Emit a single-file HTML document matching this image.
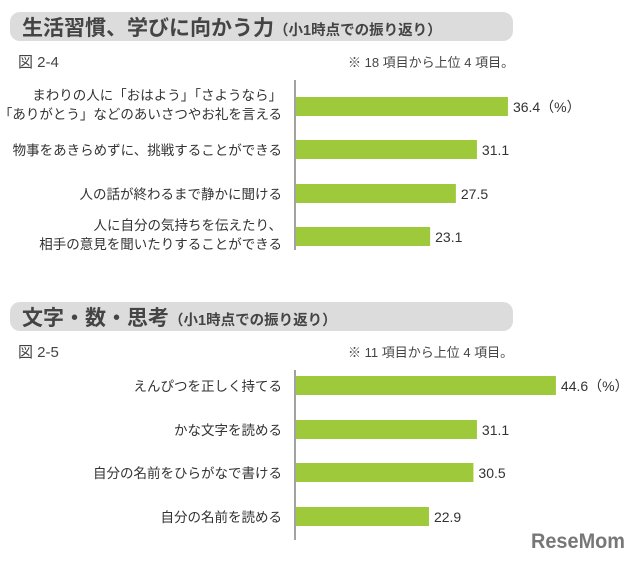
<!DOCTYPE html>
<html><head><meta charset="utf-8"><style>
body{margin:0;background:#fff;}
svg text{font-family:"Liberation Sans","Noto Sans CJK JP",sans-serif;}
</style></head><body>
<svg width="640" height="564" viewBox="0 0 640 564">
<g id="c1"></g>
<g id="c2"></g>
<text x="578" y="548" text-anchor="middle" font-size="21" font-weight="bold" fill="#777" textLength="94" lengthAdjust="spacingAndGlyphs">ReseMom</text>
</svg>
<script>
const cats1 = [["まわりの人に「おはよう」「さようなら」","「ありがとう」などのあいさつやお礼を言える"],["物事をあきらめずに、挑戦することができる"],["人の話が終わるまで静かに聞ける"],["人に自分の気持ちを伝えたり、","相手の意見を聞いたりすることができる"]];
const vals1 = [36.4, 31.1, 27.5, 23.1];
const cats2 = [["えんぴつを正しく持てる"],["かな文字を読める"],["自分の名前をひらがなで書ける"],["自分の名前を読める"]];
const vals2 = [44.6, 31.1, 30.5, 22.9];
const NS="http://www.w3.org/2000/svg";
const x0=295, scale=5.85;
function xs(v){return x0+v*scale;}
function mk(g,tag,attrs,txt){const e=document.createElementNS(NS,tag);for(const k in attrs)e.setAttribute(k,attrs[k]);if(txt!==undefined)e.textContent=txt;g.appendChild(e);return e;}
function draw(gid,top,title,fig,note,cats,vals,barTops){
  const g=document.getElementById(gid);
  const band=mk(g,'rect',{x:10,y:top,width:503,height:29,rx:10,fill:'#dcdcdc'});
  
  
  const t=mk(g,'text',{x:22,y:top+23,'font-size':21,'font-weight':'bold',fill:'#444'});
  
  
  mk(t,'tspan',{},title);
  mk(t,'tspan',{'font-size':14.5},'（小1時点での振り返り）');
  const f=mk(g,'text',{x:18,y:top+55,'font-size':15,fill:'#444'},fig);
  
  
  const n=mk(g,'text',{x:348,y:top+55,'font-size':13,fill:'#444'},note);
  
  
  const ax=mk(g,'line',{x1:x0,x2:x0,y1:top+68,y2:top+238,stroke:'#444','stroke-width':1});
  
  
  vals.forEach((v,i)=>{
    const y=barTops[i];
    const b=mk(g,'rect',{x:x0+1,y:y,width:xs(v)-x0-1,height:19,fill:'#9ec93a'});
    
    
    const vl=mk(g,'text',{x:xs(v)+5,y:y+15,'font-size':14,fill:'#333'},v.toFixed(1)+(i===0?'（%）':''));
    
    
    const lines=cats[i];
    lines.forEach((s,j)=>{
      const yy = lines.length===1 ? y+15 : y+3+j*19;
      const l=mk(g,'text',{x:282,y:yy,'font-size':13.5,'text-anchor':'end',fill:'#333'},s);
      
      
    });
  });
}
draw('c1',12,'生活習慣、学びに向かう力','図 2-4','※ 18 項目から上位 4 項目。',cats1,vals1,[97,140,184,227]);
draw('c2',302,'文字・数・思考','図 2-5','※ 11 項目から上位 4 項目。',cats2,vals2,[376,420,463,507]);
</script>
</body></html>
